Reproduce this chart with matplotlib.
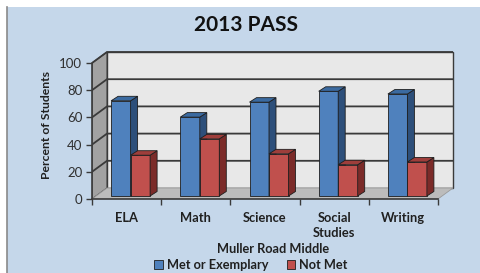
import matplotlib
matplotlib.use("Agg")
import matplotlib.pyplot as plt
from matplotlib.patches import Polygon, Rectangle
import numpy as np

categories = ["ELA", "Math", "Science", "Social\nStudies", "Writing"]
met = [70, 58, 69, 77, 75]
not_met = [30, 42, 31, 23, 25]
series_names = ["Met or Exemplary", "Not Met"]
yticks = [0, 20, 40, 60, 80, 100]

W, H = 481, 273
fig = plt.figure(figsize=(W / 100, H / 100), dpi=100)
fig.patch.set_facecolor("white")
FONT = "Lato"
plt.rcParams["font.family"] = [FONT, "DejaVu Sans"]

# chart background panel
fig.patches.append(Rectangle((7 / W, 0), 1 - 7 / W, 1 - 7 / H, transform=fig.transFigure,
                             facecolor="#c5d7ea", edgecolor="none", zorder=-10))
fig.lines.append(plt.Line2D([6.5 / W, 6.5 / W], [0, 1 - 7 / H], transform=fig.transFigure,
                            color="#8a8a8a", lw=1.2, zorder=-9))

# axes geometry in pixels
px_per_x = 69.2
px_per_y = 1.36
left_px, bottom_px = 92, 199
xmax = 4.5 + 17 / px_per_x
ymax = 108.5
ax_w = (xmax + 0.5) * px_per_x
ax_h = ymax * px_per_y
ax = fig.add_axes([left_px / W, (H - bottom_px) / H, ax_w / W, ax_h / H])
ax.set_xlim(-0.5, xmax)
ax.set_ylim(0, ymax)
ax.patch.set_alpha(0)

ddx = 15 / px_per_x   # wall depth
ddy = 11 / px_per_y
n = len(categories)
x0, x1 = -0.5, n - 0.5

# back wall
ax.add_patch(Polygon([(x0 + ddx, ddy), (x1 + ddx, ddy), (x1 + ddx, 100 + ddy), (x0 + ddx, 100 + ddy)],
                     closed=True, facecolor="#e8e8e8", edgecolor="#3a3a3a", lw=1.0, zorder=1))
# side wall
ax.add_patch(Polygon([(x0, 0), (x0 + ddx, ddy), (x0 + ddx, 100 + ddy), (x0, 100)],
                     closed=True, facecolor="#a2a2a2", edgecolor="#3a3a3a", lw=0.8, zorder=1))
# floor
ax.add_patch(Polygon([(x0, 0), (x1, 0), (x1 + ddx, ddy), (x0 + ddx, ddy)],
                     closed=True, facecolor="#bcbcbc", edgecolor="#9a9a9a", lw=0.6, zorder=1))
# gridlines
for v in yticks[1:]:
    ax.plot([x0, x0 + ddx, x1 + ddx], [v, v + ddy, v + ddy], color="#3a3a3a", lw=1.3, zorder=2,
            solid_capstyle="butt")

# bars
bw = 19.5 / px_per_x
ox = 4 / px_per_x
oy = 3 / px_per_y
bdx = 7 / px_per_x
bdy = 4.5 / px_per_y
xs = np.arange(n)
series = [(met, "#4f81bd", "#2d4f7a", "#3b6aa0", -1), (not_met, "#c0504d", "#7b2b29", "#9e3e3b", 0)]
ec = "#1e1e1e"
for i in range(n):
    for vals, cf, cs, ct, k in series:
        xl = xs[i] + ox + k * bw
        xr = xl + bw
        top = oy + vals[i]
        ax.bar(xl, vals[i], width=bw, bottom=oy, align="edge", color=cf, edgecolor=ec, lw=0.6, zorder=3)
        ax.add_patch(Polygon([(xr, oy), (xr + bdx, oy + bdy), (xr + bdx, top + bdy), (xr, top)],
                             closed=True, facecolor=cs, edgecolor=ec, lw=0.6, zorder=3))
        ax.add_patch(Polygon([(xl, top), (xr, top), (xr + bdx, top + bdy), (xl + bdx, top + bdy)],
                             closed=True, facecolor=ct, edgecolor=ec, lw=0.6, zorder=3))

# axes spines/ticks
for s in ["top", "right"]:
    ax.spines[s].set_visible(False)
ax.spines["left"].set_bounds(0, 100)
ax.spines["bottom"].set_bounds(x0, x1)
for s in ["left", "bottom"]:
    ax.spines[s].set_color("#3a3a3a")
    ax.spines[s].set_linewidth(1.2)
    ax.spines[s].set_zorder(4)
ax.set_yticks(yticks)
ax.set_yticklabels([str(v) for v in yticks], fontsize=9.5, color="#303030")
ax.tick_params(axis="y", length=4, width=1.0, color="#3a3a3a", pad=3)
ax.set_xticks(np.arange(n + 1) - 0.5)
ax.set_xticklabels([])
ax.tick_params(axis="x", which="major", length=4, width=1.0, color="#3a3a3a")
ax.set_xticks(xs, minor=True)
ax.set_xticklabels(categories, minor=True, fontsize=9.3, fontweight="bold", color="#202020",
                   linespacing=1.3, va="top")
ax.tick_params(axis="x", which="minor", length=0, pad=9.5)

ax.set_ylabel("Percent of Students", fontsize=8.8, fontweight="bold", color="#202020", labelpad=5)
ax.set_xlabel("Muller Road Middle", fontsize=9.2, fontweight="bold", color="#202020", labelpad=3)

fig.text(246 / W, 1 - 25 / H, "2013 PASS", ha="center", va="center", fontsize=15,
         fontweight="bold", color="#111111")

# legend
handles = [Rectangle((0, 0), 1, 1, facecolor="#4f81bd", edgecolor="#1e1e1e", lw=0.6),
           Rectangle((0, 0), 1, 1, facecolor="#c0504d", edgecolor="#1e1e1e", lw=0.6)]
leg = fig.legend(handles, series_names, loc="center", bbox_to_anchor=(251 / W, 1 - 265 / H),
                 ncol=2, frameon=False, fontsize=9.2, handlelength=0.7, handleheight=0.7,
                 handletextpad=0.3, columnspacing=1.4, borderaxespad=0, borderpad=0)
for t in leg.get_texts():
    t.set_fontweight("bold")
    t.set_color("#202020")

fig.savefig("out.png", dpi=100)
